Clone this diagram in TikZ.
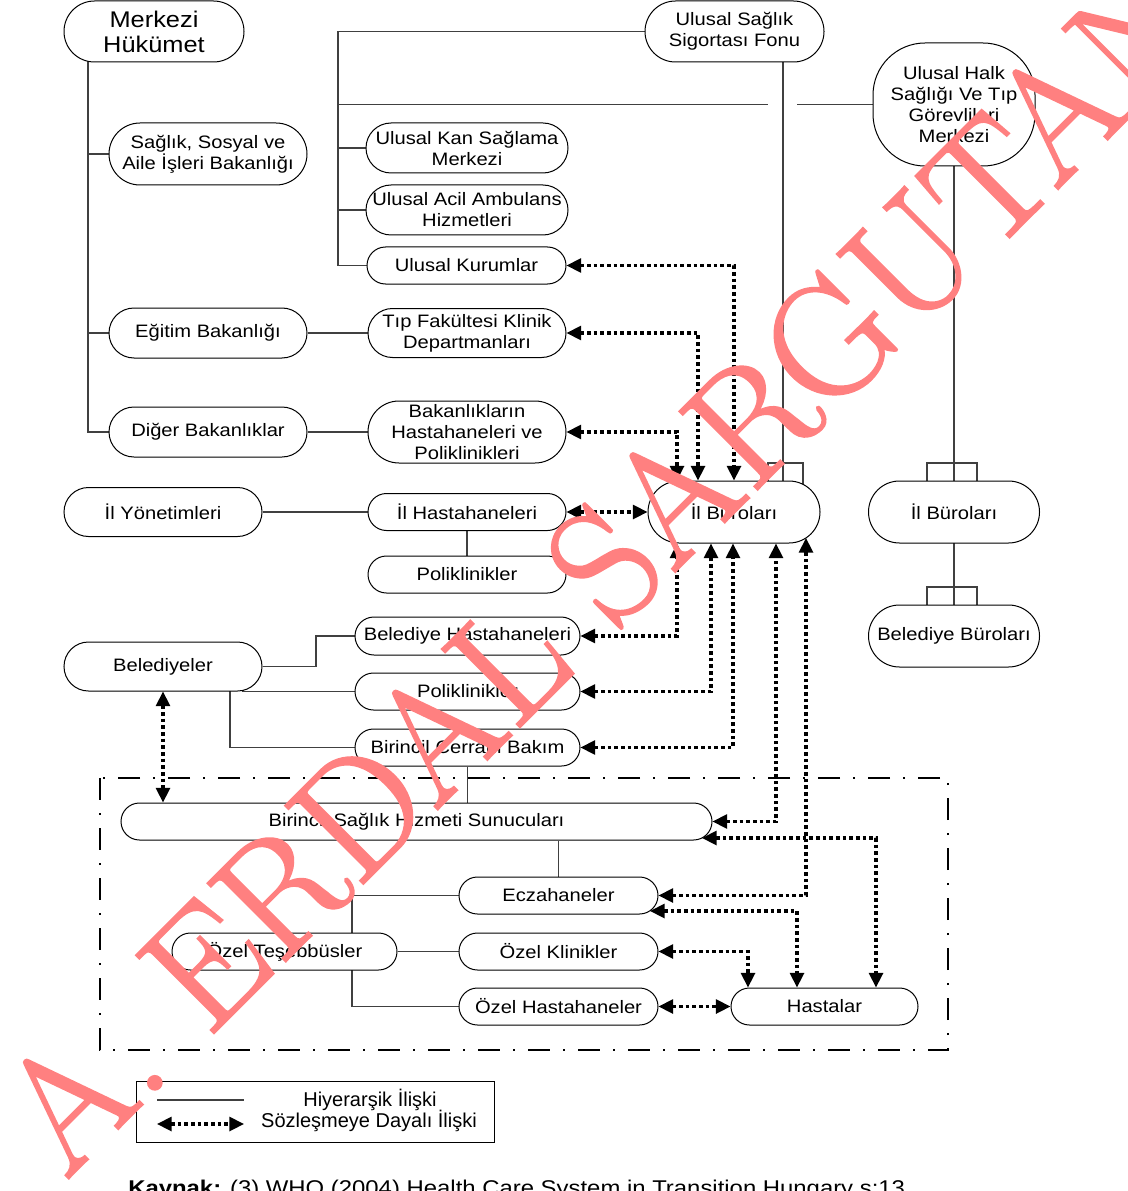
\documentclass[tikz,border=0pt]{standalone}
\usepackage{fontspec}
\setmainfont{Liberation Sans}[FakeStretch=1.12]
\newfontfamily\legfont{Liberation Sans}
\newfontfamily\wmfont{lmroman17-regular.otf}[FakeBold=1.5]
\usetikzlibrary{arrows.meta,calc}
\pgfdeclarelayer{background}
\pgfdeclarelayer{foreground}
\pgfsetlayers{background,main,foreground}
\definecolor{wmred}{RGB}{255,128,128}
\def\PX{0.75pt}
\newcommand\nodefnt{\fontsize{13.5pt}{15.75pt}\selectfont}
\newcommand\bigfnt{\fontsize{17pt}{18.75pt}\selectfont}
\newcommand\legfnt{\legfont\fontsize{15pt}{15.75pt}\selectfont}
\newcommand\kayfnt{\fontsize{16pt}{18pt}\selectfont}
\newcommand\wmfnt{\wmfont\fontsize{121pt}{121pt}\selectfont}
\begin{document}
\begin{tikzpicture}[x=0.75pt,y=-0.75pt,
  bx/.style={draw=black, line width=0.75pt, fill=white, rectangle, inner sep=0pt, align=center, font=\nodefnt},
  sz/.style n args={3}{minimum width={#1*\PX}, minimum height={#2*\PX}, rounded corners={#3*\PX}},
  hl/.style={line width=0.9pt, draw=black!75},
  ct/.style={line width=2.3pt, dash pattern=on 2.8pt off 2.2pt, <->, >={Triangle[length=11pt,width=10.5pt]}},
  frame/.style={line width=2pt, dash pattern=on 16.5pt off 9.75pt on 1.5pt off 9.75pt},
  lbl/.style={inner sep=0pt, font=\legfnt}]
\useasboundingbox (0,0) rectangle (1127,1191);

% nodes
\node[bx,sz={180}{61}{30.5},font=\bigfnt] (mk) at (154,31.5) {Merkezi\\Hükümet};
\node[bx,sz={179}{61}{30.5}] (fonu) at (734.5,31.5) {Ulusal Sağlık\\Sigortası Fonu};
\node[bx,sz={162}{123}{52}] (halk) at (954,104.5) {Ulusal Halk\\Sağlığı Ve Tıp\\Görevlileri\\Merkezi};
\node[bx,sz={198}{62}{31}] (sag) at (208,154) {Sağlık, Sosyal ve\\Aile İşleri Bakanlığı};
\node[bx,sz={202}{50}{25}] (kan) at (467,148) {Ulusal Kan Sağlama\\Merkezi};
\node[bx,sz={202}{50}{25}] (acil) at (467,210) {Ulusal Acil Ambulans\\Hizmetleri};
\node[bx,sz={199}{37}{18.5}] (kur) at (466.5,265.5) {Ulusal Kurumlar};
\node[bx,sz={198}{49}{24.5}] (tip) at (467,333) {Tıp Fakültesi Klinik\\Departmanları};
\node[bx,sz={198}{62}{31}] (bak) at (467,432) {Bakanlıkların\\Hastahaneleri ve\\Poliklinikleri};
\node[bx,sz={198}{37}{18.5}] (ilh) at (467,512) {İl Hastahaneleri};
\node[bx,sz={198}{37}{18.5}] (pol1) at (467,574.5) {Poliklinikler};
\node[bx,sz={225}{38}{19}] (beh) at (467.5,636) {Belediye Hastahaneleri};
\node[bx,sz={225}{37}{18.5}] (pol2) at (467.5,691.5) {Poliklinikler};
\node[bx,sz={225}{37}{18.5}] (bcb) at (467.5,747.5) {Birincil Cerrahi Bakım};
\node[bx,sz={198}{50}{25}] (egi) at (208,333) {Eğitim Bakanlığı};
\node[bx,sz={198}{50}{25}] (dig) at (208,432) {Diğer Bakanlıklar};
\node[bx,sz={198}{49}{24.5}] (ily) at (163,512) {İl Yönetimleri};
\node[bx,sz={198}{49}{24.5}] (bel) at (163,666.5) {Belediyeler};
\node[bx,sz={172}{62}{31}] (ilb) at (734,512) {İl Büroları};
\node[bx,sz={171}{62}{31}] (ilb2) at (954,512) {İl Büroları};
\node[bx,sz={171}{62}{31}] (beb) at (954,636) {Belediye Büroları};
\node[bx,sz={591}{37}{18.5}] (bsh) at (416.5,821.5) {Birincil Sağlık Hizmeti Sunucuları};
\node[bx,sz={199}{37}{18.5}] (ecz) at (558.5,895.5) {Eczahaneler};
\node[bx,sz={199}{37}{18.5}] (ozk) at (558.5,951.5) {Özel Klinikler};
\node[bx,sz={199}{37}{18.5}] (ozh) at (558.5,1006.5) {Özel Hastahaneler};
\node[bx,sz={225}{37}{18.5}] (ozt) at (284.5,951.5) {Özel Teşebbüsler};
\node[bx,sz={187}{37}{18.5}] (has) at (824.5,1006.5) {Hastalar};

% legend
\node[draw=black, line width=0.75pt, minimum width={358*\PX}, minimum height={61*\PX}, inner sep=0pt] (leg) at (315,1111.5) {};
\node[lbl] (t1) at (370,1100) {Hiyerarşik İlişki};
\node[lbl] (t2) at (369,1121) {Sözleşmeye Dayalı İlişki};
\coordinate (l1a) at (157,1100); \coordinate (l1b) at (244,1100);
\coordinate (l2a) at (157,1124); \coordinate (l2b) at (244,1124);

% source line
\node[anchor=base west, inner sep=0pt, font=\kayfnt] (kay) at (128,1195) {\textbf{Kaynak:} (3) WHO (2004) Health Care System in Transition Hungary s:13};

% helper coordinates
\coordinate (xm) at (88,0);
\coordinate (xa) at (338,0);
\coordinate (xf) at (783,0);
\coordinate (xb) at (316,0);
\coordinate (xc) at (243,0);
\coordinate (xd) at (230,0);
\coordinate (xe) at (352,0);
\coordinate (hopL) at (768,0);
\coordinate (hopR) at (797,0);
\coordinate (d677) at (677,0);
\coordinate (d698) at (698,0);
\coordinate (d711) at (711,0);
\coordinate (d733) at (733,0);
\coordinate (d776) at (776,0);
\coordinate (d806) at (806,538);
\coordinate (d876) at (876,0);
\coordinate (d797) at (797,0);
\coordinate (d748) at (748,0);
\coordinate (bshR) at (702,838);
\coordinate (eczR) at (650,911);

\begin{pgfonlayer}{background}
% frame
\draw[frame] (100,778) rectangle (948,1050);
% hierarchy
\draw[hl] (mk.center -| xm) |- (dig.west);
\draw[hl] (xm |- sag.west) -- (sag.west);
\draw[hl] (xm |- egi.west) -- (egi.west);
\draw[hl] (egi.east) -- (tip.west);
\draw[hl] (dig.east) -- (bak.west);
\draw[hl] (ily.east) -- (ilh.west);
\draw[hl] (ilh.south) -- (pol1.north);
\draw[hl] (fonu.west) -| (xa |- kur.west) -- (kur.west);
\draw[hl] (xa |- kan.west) -- (kan.west);
\draw[hl] (xa |- acil.west) -- (acil.west);
\draw[hl] (xa |- halk.west) -- (hopL |- halk.west);
\draw[hl] (hopR |- halk.west) -- (halk.west);
\draw[hl] (fonu.center -| xf) -- (xf |- ilb.center);
\draw[hl] (768,463) rectangle (803,486);
\draw[hl] (halk.center) -- (ilb2.center);
\draw[hl] (927,463) rectangle (977,484);
\draw[hl] (ilb2.center) -- (beb.center);
\draw[hl] (927,587) rectangle (977,608);
\draw[hl] (bel.east) -| (xb |- beh.west) -- (beh.west);
\draw[hl] (xc |- bel.center) |- (pol2.west);
\draw[hl] (xd |- bel.center) |- (bcb.west);
\draw[hl] (bcb.south) -- (bcb.south |- bsh.north);
\draw[hl] (ecz.north) -- (ecz.north |- bsh.south);
\draw[hl] (xe |- ecz.west) -- (ecz.west);
\draw[hl] (xe |- ecz.west) |- (ozh.west);
\draw[hl] (ozt.east) -- (ozk.west);
% contracts
\draw[ct] (kur.east) -| (ilb.north);
\draw[ct] (tip.east) -| (d698 |- ilb.north);
\draw[ct] (bak.east) -| (d677 |- ilb.north);
\draw[ct] (ilh.east) -- (ilb.west);
\draw[ct] (beh.east) -| (d677 |- ilb.south);
\draw[ct] (pol2.east) -| (d711 |- ilb.south);
\draw[ct] (bcb.east) -| (d733 |- ilb.south);
\draw[ct] (bsh.east) -| (d776 |- ilb.south);
\draw[ct] (ecz.east) -| (d806);
\draw[ct] (bshR) -| (d876 |- has.north);
\draw[ct] (eczR) -| (d797 |- has.north);
\draw[ct] (ozk.east) -| (d748 |- has.north);
\draw[ct] (ozh.east) -- (has.west);
\draw[ct] (bel.south) -- (bel.south |- bsh.north);
% legend samples
\draw[hl] (l1a) -- (l1b);
\draw[ct] (l2a) -- (l2b);
\end{pgfonlayer}

\begin{pgfonlayer}{foreground}
\node[rotate=45, anchor=base west, inner sep=0pt, text=wmred, font=\wmfnt] (wm) at (66,1181) {A. ERDAL SARGUTAN};
\end{pgfonlayer}
\end{tikzpicture}
\end{document}
